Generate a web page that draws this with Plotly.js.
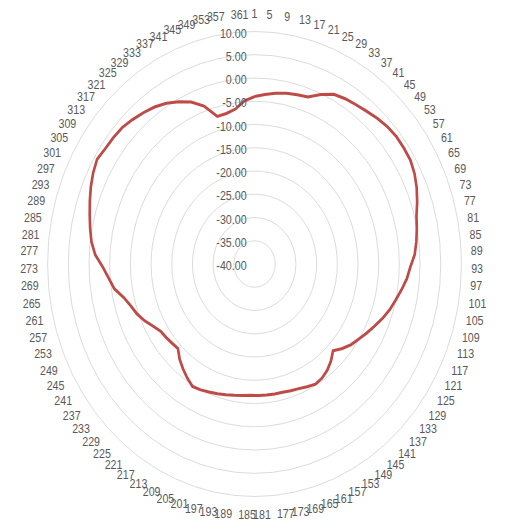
<!DOCTYPE html>
<html>
<head>
<meta charset="utf-8">
<script src="https://cdn.plot.ly/plotly-3.0.1.min.js"></script>
<style>
html,body{margin:0;padding:0;background:#fff;overflow:hidden;}
#wrap{width:519px;height:530px;overflow:hidden;position:relative;}
#chart{position:absolute;left:0;top:0;width:583px;height:530px;transform:scaleX(0.89);transform-origin:0 0;}
</style>
</head>
<body>
<div id="wrap"><div id="chart"></div></div>
<script>
// Angle categories (degrees), 1..361 step 4
var angleLabels = [];
for (var a = 1; a <= 361; a += 4) { angleLabels.push(String(a)); }

// Measured gain values (dB), one per angle category
var gainValues = [
  -4.0, -3.45, -2.94, -2.49, -2.15, -1.85, -0.17, 1.2, 1.75, 2.12,
  2.58, 3.17, 3.62, 3.88, 3.85, 3.79, 3.27, 2.48, 1.51, 0.48,
  -0.07, -0.62, -1.25, -2.35, -3.07, -4.06, -5.03, -5.9, -6.94, -8.09,
  -9.09, -10.07, -10.92, -12.06, -13.4, -12.15, -11.18, -10.54, -10.24, -10.71,
  -11.14, -11.36, -11.58, -11.62, -11.66, -11.7, -11.75, -11.55, -11.33, -11.02,
  -10.69, -10.35, -9.96, -9.69, -10.6, -11.62, -12.69, -14.05, -13.79, -13.45,
  -13.12, -12.1, -10.78, -9.65, -8.79, -7.58, -5.7, -4.64, -3.31, -1.45,
  -0.3, 0.45, 1.2, 2.04, 2.9, 3.65, 4.22, 3.77, 3.61, 3.4,
  2.82, 2.19, 1.52, 0.59, -0.59, -1.96, -3.91, -7.0, -6.92, -6.36,
  -4.84
];

var radialTickVals = [-40, -35, -30, -25, -20, -15, -10, -5, 0, 5, 10];
var radialTickText = ["-40.00", "-35.00", "-30.00", "-25.00", "-20.00", "-15.00", "-10.00", "-5.00", "0.00", "5.00", "10.00"];

var thetaClosed = angleLabels.concat([angleLabels[0]]);
var rClosed = gainValues.concat([gainValues[0]]);

var trace = {
  type: 'scatterpolar',
  mode: 'lines',
  theta: thetaClosed,
  r: rClosed,
  line: {color: '#be4b48', width: 3},
  hoverinfo: 'skip'
};

var W = 583, H = 530;
var cx = 286, cy = 264, R = 232.5;

var layout = {
  width: W, height: H,
  margin: {l: 0, r: 0, t: 0, b: 0},
  paper_bgcolor: '#ffffff',
  showlegend: false,
  font: {family: '"Liberation Sans", sans-serif', color: '#595959', size: 12},
  polar: {
    domain: {
      x: [(cx - R) / W, (cx + R) / W],
      y: [(H - cy - R) / H, (H - cy + R) / H]
    },
    bgcolor: '#ffffff',
    radialaxis: {
      range: [-40, 10],
      tickmode: 'array',
      tickvals: radialTickVals,
      ticktext: radialTickText,
      angle: 90,
      side: 'counterclockwise',
      showline: false,
      ticks: '',
      gridcolor: '#d9d9d9',
      gridwidth: 1,
      tickfont: {family: '"Liberation Sans", sans-serif', size: 12, color: '#595959'}
    },
    angularaxis: {
      type: 'category',
      categoryorder: 'array',
      categoryarray: angleLabels,
      rotation: 90,
      direction: 'clockwise',
      showgrid: false,
      showline: true,
      linecolor: '#d9d9d9',
      linewidth: 1,
      ticks: 'outside',
      ticklen: 8,
      tickcolor: 'rgba(0,0,0,0)',
      tickfont: {family: '"Liberation Sans", sans-serif', size: 12, color: '#595959'}
    }
  }
};

Plotly.newPlot('chart', [trace], layout, {displayModeBar: false, staticPlot: true});
</script>
</body>
</html>
